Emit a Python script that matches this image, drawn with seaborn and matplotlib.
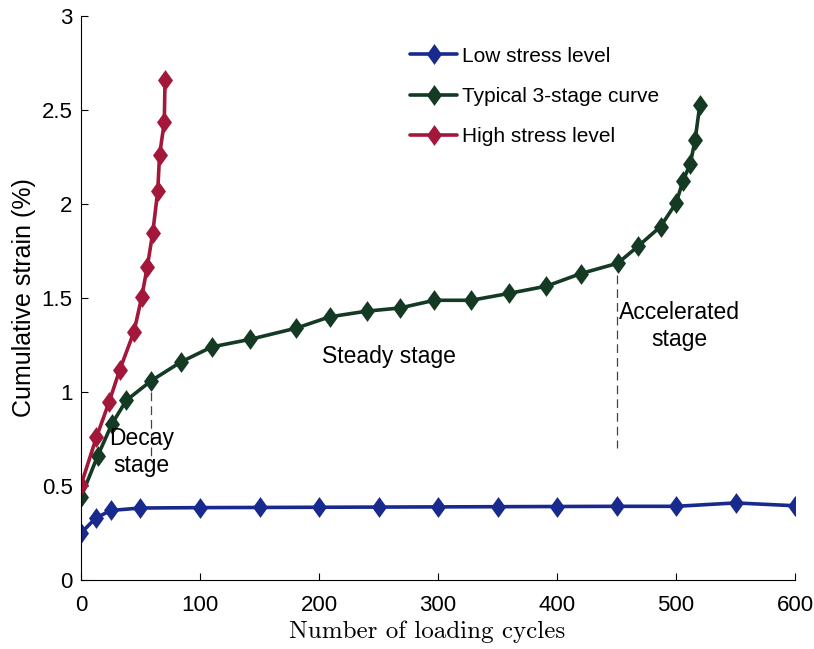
import pandas as pd
import matplotlib
matplotlib.use('Agg')
import matplotlib.pyplot as plt
import seaborn as sns

# Datos
low_x = [0, 12.5, 25, 50, 100, 150, 200, 250, 300, 350, 400, 450, 500, 550, 600]
low_y = [0.25, 0.33, 0.37, 0.383, 0.385, 0.386, 0.387, 0.388, 0.389, 0.39, 0.391, 0.392, 0.392, 0.41, 0.395]

typ_x = [0, 14, 26, 38, 59, 84, 110, 142, 181, 209, 240, 268, 297, 328, 360, 391,
         420, 451, 468, 487, 500, 506, 512, 516, 520]
typ_y = [0.44, 0.66, 0.83, 0.955, 1.06, 1.16, 1.24, 1.28, 1.34, 1.40, 1.43, 1.447,
         1.488, 1.488, 1.525, 1.563, 1.63, 1.685, 1.775, 1.88, 2.005, 2.125, 2.215, 2.34, 2.527]

high_x = [0, 13, 23.5, 32.5, 44.5, 51, 55.7, 60.3, 64.5, 66, 70, 70.6]
high_y = [0.505, 0.76, 0.945, 1.117, 1.32, 1.505, 1.666, 1.847, 2.07, 2.26, 2.435, 2.66]

labels = ['Low stress level', 'Typical 3-stage curve', 'High stress level']
colores = ['#182a8e', '#143a24', '#a3173a']

df = pd.concat([
    pd.DataFrame({'x': low_x, 'y': low_y, 'serie': labels[0]}),
    pd.DataFrame({'x': typ_x, 'y': typ_y, 'serie': labels[1]}),
    pd.DataFrame({'x': high_x, 'y': high_y, 'serie': labels[2]}),
], ignore_index=True)

sns.set_style('white')
plt.rcParams['font.family'] = ['Liberation Sans', 'DejaVu Sans']
plt.rcParams['text.color'] = 'black'
plt.rcParams['axes.labelcolor'] = 'black'
plt.rcParams['xtick.color'] = 'black'
plt.rcParams['ytick.color'] = 'black'
plt.rcParams['xtick.direction'] = 'in'
plt.rcParams['ytick.direction'] = 'in'

# diamante algo alargado como en la figura original
diamante = [(0, 1), (0.72, 0), (0, -1), (-0.72, 0), (0, 1)]

fig = plt.figure(figsize=(8.14, 6.49), dpi=100)
ax = fig.add_axes([0.0995, 0.1063, 0.8772, 0.869])

sns.lineplot(data=df, x='x', y='y', hue='serie', hue_order=labels, palette=colores,
             sort=False, estimator=None, marker=diamante, markersize=15,
             markeredgewidth=0, linewidth=2.6, ax=ax)

ax.set_xlim(0, 600)
ax.set_ylim(0, 3)
ax.set_xticks([0, 100, 200, 300, 400, 500, 600])
ax.set_yticks([0, 0.5, 1, 1.5, 2, 2.5, 3])
ax.set_yticklabels(['0', '0.5', '1', '1.5', '2', '2.5', '3'])
ax.tick_params(labelsize=16, length=5, width=0.8, left=True, bottom=True)
ax.tick_params(axis='x', pad=11)
ax.tick_params(axis='y', pad=6)
for s in ['top', 'right']:
    ax.spines[s].set_visible(False)
for s in ['left', 'bottom']:
    ax.spines[s].set_color('black')
    ax.spines[s].set_linewidth(0.8)

ax.set_xlabel('Number of loading cycles', fontname='cmr10', fontsize=18, labelpad=4)
ax.xaxis.set_label_coords(0.4846, -0.072)
ax.set_ylabel('Cumulative strain (%)', fontsize=18, labelpad=4)

# lineas discontinuas y textos de las etapas
ax.plot([59, 59], [1.0, 0.63], color='#444444', linewidth=0.9, dashes=(7, 4))
ax.plot([450, 450], [1.62, 0.7], color='#444444', linewidth=0.9, dashes=(7, 4))
ax.text(51, 0.68, 'Decay\nstage', ha='center', va='center', fontsize=16.5, linespacing=1.2)
ax.text(259, 1.19, 'Steady stage', ha='center', va='center', fontsize=16.5)
ax.text(503, 1.35, 'Accelerated\nstage', ha='center', va='center', fontsize=16.5, linespacing=1.2)

leg = ax.legend(loc='upper left', bbox_to_anchor=(0.435, 0.979), frameon=False,
                fontsize=15, handlelength=2.26, handletextpad=0.24, labelspacing=1.02)

fig.savefig('out.png', dpi=100)
